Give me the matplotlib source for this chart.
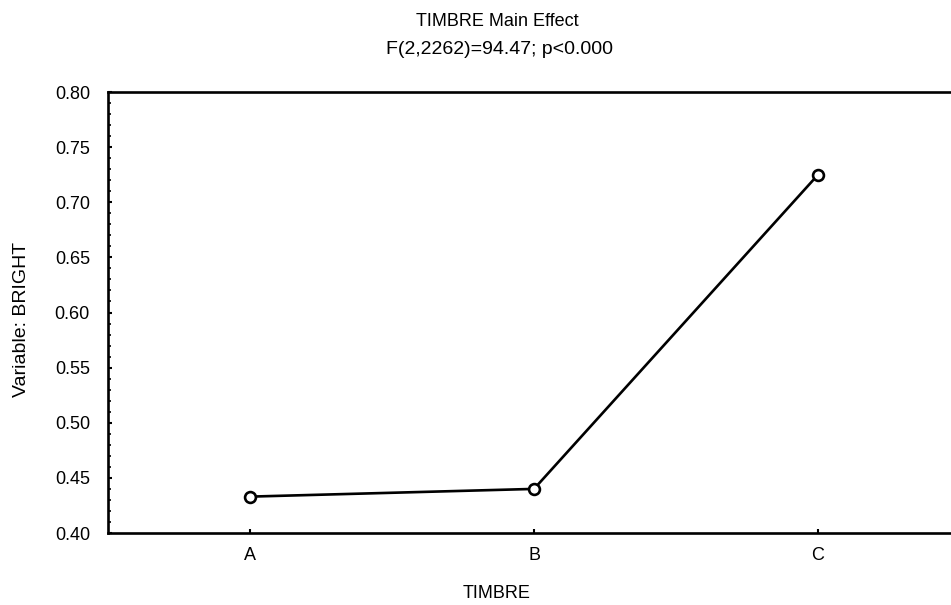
import matplotlib
matplotlib.use("Agg")
import matplotlib.pyplot as plt
from matplotlib.ticker import MultipleLocator, FormatStrFormatter

plt.rcParams['font.family'] = ['Liberation Sans', 'DejaVu Sans']

# Mean BRIGHT rating per timbre level
categories = ['A', 'B', 'C']
bright_means = [0.433, 0.440, 0.725]
yticks = [0.40, 0.45, 0.50, 0.55, 0.60, 0.65, 0.70, 0.75, 0.80]

title_line1 = 'TIMBRE Main Effect'
title_line2 = 'F(2,2262)=94.47; p<0.000'

fig = plt.figure(figsize=(9.51, 6.05), dpi=100)
ax = fig.add_axes([0.1136, 0.1190, 0.8959, 0.7289])

x = list(range(len(categories)))
ax.plot(x, bright_means, color='black', linewidth=1.9,
        marker='o', markersize=7.8, markerfacecolor='white',
        markeredgecolor='black', markeredgewidth=1.9, zorder=3)

ax.set_xlim(-0.5, 2.5)
ax.set_ylim(0.40, 0.80)
ax.set_xticks(x)
ax.set_xticklabels(categories)
ax.set_yticks(yticks)
ax.yaxis.set_major_formatter(FormatStrFormatter('%.2f'))
ax.yaxis.set_minor_locator(MultipleLocator(0.01))

for side in ['left', 'bottom', 'top', 'right']:
    ax.spines[side].set_linewidth(1.9)

ax.tick_params(axis='y', which='major', direction='in', length=3, width=1.5,
               labelsize=13, pad=13)
ax.tick_params(axis='y', which='minor', direction='in', length=2.5, width=1.2)
ax.tick_params(axis='x', which='major', direction='in', length=3, width=1.5,
               labelsize=13, pad=10)

ax.set_xlabel('TIMBRE', fontsize=13)
ax.xaxis.set_label_coords(0.4566, -0.118)
ax.set_ylabel('Variable: BRIGHT', fontsize=14)
ax.yaxis.set_label_coords(-0.0915, 0.485)

fig.text(497 / 951, 1 - 21 / 605, title_line1, ha='center', va='center', fontsize=13)
fig.text(500 / 951, 1 - 49 / 605, title_line2, ha='center', va='center', fontsize=14)

fig.savefig('out.png', dpi=100)
